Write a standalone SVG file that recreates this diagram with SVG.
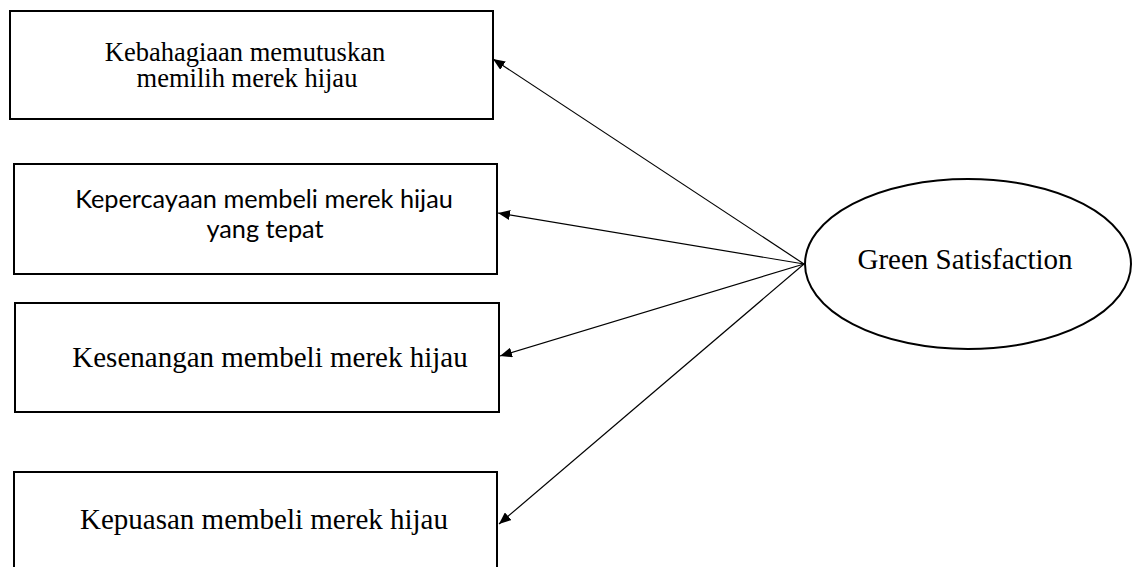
<svg xmlns="http://www.w3.org/2000/svg" width="1132" height="567" viewBox="0 0 1132 567">
  <style>
    .box { fill: #ffffff; stroke: #000000; stroke-width: 2; }
    .serif { font-family: "Liberation Serif", "Times New Roman", serif; font-size: 29px; fill: #000000; text-anchor: middle; }
    .serif.small { font-size: 26.5px; }
    .sans { font-family: Lato, "Liberation Sans", Arial, sans-serif; font-size: 25.3px; fill: #000000; text-anchor: middle; }
    .link { stroke: #000000; stroke-width: 1.2; fill: none; marker-end: url(#arrow); }
  </style>
  <defs>
    <marker id="arrow" viewBox="0 0 12 10" refX="12" refY="5" markerWidth="12" markerHeight="10" markerUnits="userSpaceOnUse" orient="auto">
      <path d="M0,0 L12,5 L0,10 Z" fill="#000000"/>
    </marker>
  </defs>
  <rect width="1132" height="567" fill="#ffffff"/>

  <g id="node-kebahagiaan">
    <rect class="box" x="10" y="11" width="483" height="108"/>
    <text class="serif small" x="245" y="61">Kebahagiaan memutuskan</text>
    <text class="serif small" x="247" y="87">memilih merek hijau</text>
  </g>

  <g id="node-kepercayaan">
    <rect class="box" x="14" y="164" width="483" height="110"/>
    <text class="sans" x="264" y="208">Kepercayaan membeli merek hijau</text>
    <text class="sans" x="265" y="238">yang tepat</text>
  </g>

  <g id="node-kesenangan">
    <rect class="box" x="15" y="303" width="484" height="109"/>
    <text class="serif" x="270" y="367">Kesenangan membeli merek hijau</text>
  </g>

  <g id="node-kepuasan">
    <rect class="box" x="14" y="472" width="483" height="110"/>
    <text class="serif" x="264" y="529">Kepuasan membeli merek hijau</text>
  </g>

  <g id="node-green-satisfaction">
    <ellipse class="box" cx="968" cy="264" rx="163" ry="85"/>
    <text class="serif" x="965" y="269">Green Satisfaction</text>
  </g>

  <g id="connectors">
    <line class="link" x1="804" y1="264" x2="493" y2="59"/>
    <line class="link" x1="804" y1="264" x2="498" y2="213"/>
    <line class="link" x1="804" y1="264" x2="500" y2="356"/>
    <line class="link" x1="804" y1="264" x2="499" y2="524"/>
  </g>
</svg>
